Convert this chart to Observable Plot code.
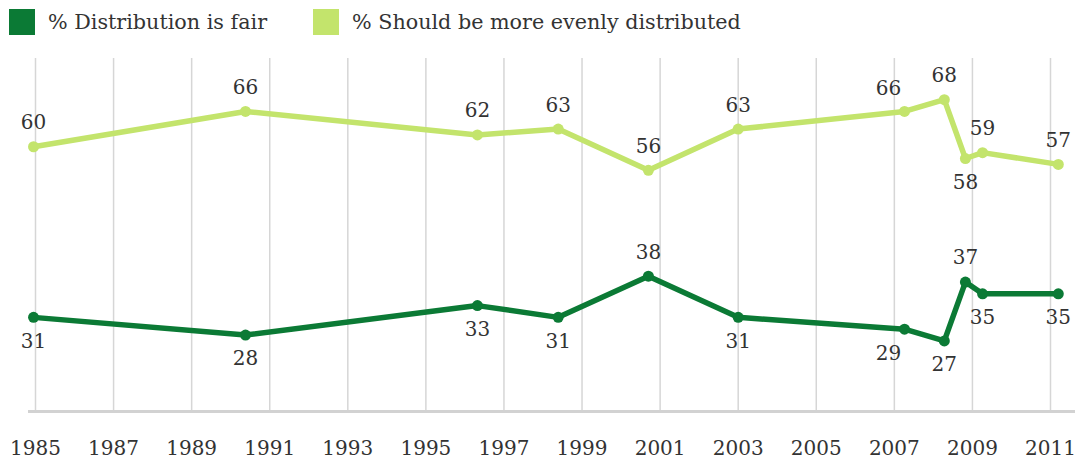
<!DOCTYPE html>
<html><head><meta charset="utf-8">
<script src="https://cdn.jsdelivr.net/npm/d3@7"></script>
<script src="https://cdn.jsdelivr.net/npm/@observablehq/plot@0.6"></script>
<style>
body{margin:0;background:#fff;font-family:"DejaVu Serif",serif;}
#wrap{position:relative;width:1078px;height:462px;overflow:hidden}
.item{position:absolute;top:9px;display:flex;align-items:center;height:26px;font-size:20.7px;color:#333;white-space:nowrap}
.sw{width:26px;height:26px;margin-right:13px;flex:none}
#chart{position:absolute;left:0;top:0}
</style></head><body><div id="wrap"><div id="chart"></div></div>
<script>
// Survey dates (decimal years)
const years = [1984.95, 1990.38, 1996.32, 1998.39, 2000.70, 2003.0, 2007.26, 2008.28, 2008.82, 2009.26, 2011.2];
const fair = [31, 28, 33, 31, 38, 31, 29, 27, 37, 35, 35];
const evenly = [60, 66, 62, 63, 56, 63, 66, 68, 58, 59, 57];
const seriesNames = ["% Distribution is fair", "% Should be more evenly distributed"];
const seriesColors = ["#0b7a35", "#c3e46c"];
const tickYears = d3.range(1985, 2012, 2);
// label placement codes: t = above, b = below, tl = above-left, bl = below-left
const fairLabelPos = ["b","b","b","b","t","b","bl","b","t","b","b"];
const evenlyLabelPos = ["t","t","t","t","t","t","tl","t","b","t","t"];

const rows = [];
years.forEach((yr, i) => rows.push({year: yr, value: fair[i], s: 0, pos: fairLabelPos[i]}));
years.forEach((yr, i) => rows.push({year: yr, value: evenly[i], s: 1, pos: evenlyLabelPos[i]}));

const wrap = document.getElementById("wrap");
seriesNames.forEach((name, i) => {
  const it = document.createElement("div");
  it.className = "item";
  it.style.left = (i === 0 ? 9 : 313) + "px";
  it.innerHTML = `<span class="sw" style="background:${seriesColors[i]}"></span><span>${name}</span>`;
  wrap.appendChild(it);
});

const labelMark = (code, dx, dy) => Plot.text(rows, {
  filter: d => d.pos === code, x: "year", y: "value", text: d => String(d.value),
  dx, dy, fill: "#333", fontSize: 20
});

const chart = Plot.plot({
  width: 1078, height: 462,
  marginTop: 58, marginBottom: 51, marginLeft: 35, marginRight: 28,
  style: {fontFamily: "DejaVu Serif", fontSize: "20px", color: "#333", background: "transparent"},
  x: {domain: [1985, 2011], ticks: tickYears, tickFormat: d => String(d), tickSize: 0, tickPadding: 29, label: null},
  y: {domain: [15, 75], axis: null},
  marks: [
    Plot.ruleX(tickYears, {stroke: "#d6d6d6", strokeWidth: 1.5}),
    Plot.ruleY([15], {stroke: "#d2d2d2", strokeWidth: 3, insetLeft: -7, insetRight: -25}),
    ...[0, 1].map(s => Plot.line(rows.filter(d => d.s === s), {x: "year", y: "value", stroke: seriesColors[s], strokeWidth: 5.5, strokeLinejoin: "round"})),
    ...[0, 1].map(s => Plot.dot(rows.filter(d => d.s === s), {x: "year", y: "value", fill: seriesColors[s], r: 5.5})),
    labelMark("t", 0, -24),
    labelMark("b", 0, 24),
    labelMark("tl", -16, -23),
    labelMark("bl", -16, 24)
  ]
});
document.getElementById("chart").appendChild(chart);
</script></body></html>
